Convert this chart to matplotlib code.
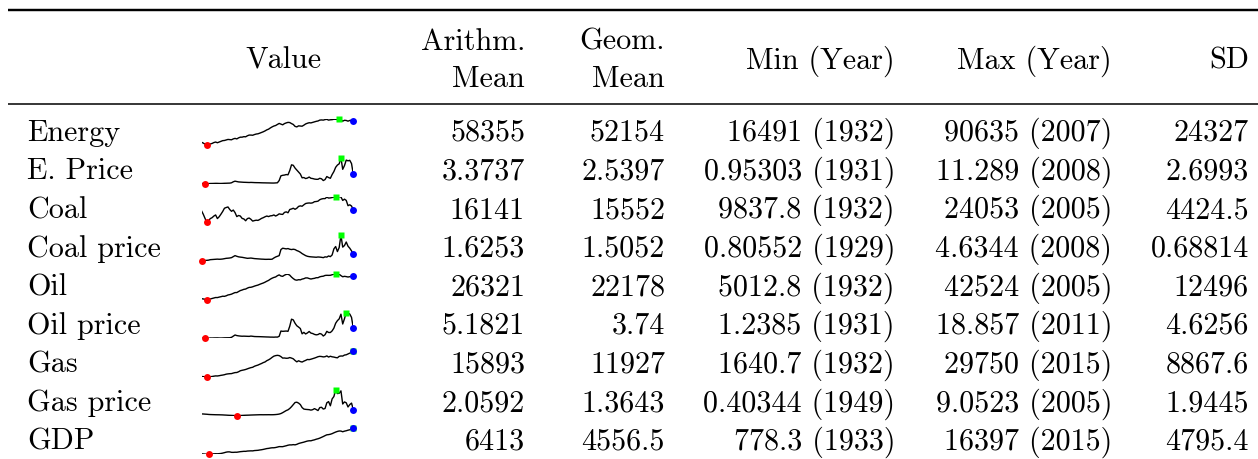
import numpy as np
import matplotlib
matplotlib.use("Agg")
import matplotlib.pyplot as plt

plt.rcParams["font.family"] = ["cmr10", "DejaVu Serif"]
plt.rcParams["axes.formatter.use_mathtext"] = True

# --- data: yearly series 1929-2015 ---
years = np.arange(1929, 2016)

energy = [24400, 22000, 19000, 16491, 17500, 19500, 21000, 23500, 25000, 23000, 25000,
          27000, 29000, 29500, 31000, 32500, 32000, 31500, 34000, 35500, 34000,
          37000, 39000, 39000, 40500, 40000, 43000, 45000, 45000, 44500, 46500,
          48000, 48700, 50500, 52500, 54500, 57000, 60000, 62000, 65500, 68500,
          71000, 72500, 75500, 78500, 76500, 74500, 78000, 80000, 81500, 81000,
          78000, 75500, 70000, 68500, 71500, 71000, 70500, 73500, 77000, 79000,
          80500, 80000, 81500, 83000, 84500, 85500, 88000, 88500, 88000, 89500,
          90300, 88000, 89000, 89300, 90500, 90400, 89800, 90635, 89000, 85000,
          87500, 87000, 85000, 87000, 87500, 86000]

e_price = [1.05, 1.00, 0.95303, 0.98, 0.97, 1.02, 1.03, 1.05, 1.08, 1.07, 1.04,
           1.03, 1.06, 1.10, 1.12, 1.15, 1.17, 1.30, 1.70, 1.95, 1.80,
           1.65, 1.60, 1.55, 1.50, 1.48, 1.45, 1.42, 1.45, 1.42, 1.38,
           1.36, 1.35, 1.33, 1.30, 1.28, 1.27, 1.25, 1.24, 1.22, 1.20,
           1.20, 1.25, 1.30, 2.20, 4.10, 4.30, 4.40, 4.60, 4.50, 6.20,
           8.50, 8.30, 7.20, 6.40, 5.60, 4.80, 3.30, 3.40, 3.00, 3.20,
           3.60, 3.10, 3.00, 2.80, 2.70, 2.70, 3.10, 2.90, 2.20, 2.60,
           3.80, 3.40, 3.10, 4.60, 5.80, 7.50, 8.40, 8.90, 11.289, 6.70,
           8.20, 10.40, 10.10, 10.30, 9.00, 4.70]

coal = [16200, 14300, 12000, 9837.8, 10800, 11900, 12400, 13300, 13900, 11900, 12900,
        14300, 15800, 17600, 18000, 18300, 16900, 15900, 16600, 15200, 13000,
        13600, 13300, 12000, 11700, 10700, 11900, 12200, 11500, 10500, 10800,
        11000, 10900, 11400, 12000, 12400, 12900, 13300, 13000, 13400, 13500,
        13900, 13300, 13800, 14500, 14300, 14200, 15300, 15600, 15100, 16900,
        17200, 17600, 17000, 17600, 18600, 18900, 18700, 19500, 20200, 20400,
        20500, 20400, 20600, 21200, 21300, 21500, 22300, 22700, 22900, 22900,
        23700, 23200, 23300, 23500, 23700, 24053, 23800, 23900, 23800, 21900,
        22600, 21900, 19000, 19500, 18800, 16700]

coal_price = [0.80552, 0.85, 0.88, 0.90, 0.93, 1.00, 1.02, 1.04, 1.06, 1.08, 1.06,
              1.07, 1.10, 1.15, 1.20, 1.22, 1.25, 1.30, 1.45, 1.60, 1.50,
              1.42, 1.38, 1.35, 1.30, 1.25, 1.20, 1.22, 1.24, 1.20, 1.16,
              1.14, 1.12, 1.10, 1.08, 1.07, 1.05, 1.05, 1.06, 1.05, 1.07,
              1.25, 1.40, 1.50, 1.60, 2.50, 2.70, 2.65, 2.60, 2.65, 2.55,
              2.50, 2.55, 2.50, 2.35, 2.25, 2.10, 1.90, 1.75, 1.60, 1.50,
              1.45, 1.42, 1.40, 1.38, 1.36, 1.40, 1.38, 1.35, 1.30, 1.42,
              1.38, 1.55, 1.45, 1.70, 2.60, 2.95, 2.20, 2.80, 4.6344, 2.86,
              3.10, 3.62, 3.00, 2.70, 2.30, 1.83]

oil = [6450, 6000, 5500, 5012.8, 5500, 6000, 6700, 7400, 8100, 8000, 8700,
       9300, 10000, 9800, 10600, 11800, 12300, 13000, 14200, 15300, 15300,
       16800, 18200, 19000, 20000, 20400, 21800, 22800, 23000, 23700, 24700,
       25500, 26200, 27300, 28300, 29200, 30400, 31800, 33000, 34800, 36200,
       37300, 38000, 39800, 41000, 39400, 38900, 40600, 41700, 42000, 40600,
       37800, 35600, 33800, 33300, 34000, 33800, 34900, 35500, 36600, 36600,
       35700, 35000, 35600, 36000, 36900, 36900, 38200, 38800, 39100, 40200,
       40400, 40300, 40400, 41200, 42300, 42524, 42200, 42000, 39900, 38300,
       38900, 38500, 37900, 38400, 38600, 39000]

oil_price = [1.35, 1.30, 1.2385, 1.32, 1.28, 1.45, 1.42, 1.48, 1.50, 1.52, 1.45,
             1.42, 1.48, 1.55, 1.58, 1.60, 1.62, 1.90, 2.70, 3.50, 3.10,
             2.90, 2.75, 2.65, 2.70, 2.65, 2.60, 2.55, 2.75, 2.60, 2.45,
             2.40, 2.38, 2.35, 2.30, 2.25, 2.20, 2.15, 2.12, 2.05, 2.05,
             2.00, 2.10, 2.05, 2.60, 6.20, 6.00, 6.10, 6.20, 6.00, 9.50,
             14.30, 13.80, 11.50, 9.80, 8.90, 7.90, 4.30, 5.30, 4.20, 4.90,
             5.90, 4.80, 4.50, 3.90, 3.60, 3.80, 4.50, 4.10, 2.80, 3.70,
             6.00, 5.20, 5.20, 6.30, 8.20, 11.50, 13.30, 14.50, 17.70, 11.00,
             14.60, 18.857, 18.50, 17.80, 15.50, 8.20]

gas = [2100, 2000, 1800, 1640.7, 1700, 1950, 2150, 2500, 2800, 2700, 3000,
       3400, 3700, 4100, 4700, 5000, 5200, 5300, 5900, 6400, 6500,
       7300, 8400, 8900, 9300, 9800, 10500, 11200, 11800, 12200, 13300,
       14000, 14600, 15500, 16300, 17300, 18000, 19400, 20300, 21500, 23000,
       24300, 24900, 25200, 24900, 23800, 22200, 22300, 22000, 22100, 22800,
       22200, 21400, 19600, 18100, 19300, 18400, 17900, 18900, 19700, 20700,
       20500, 21000, 21600, 22200, 22900, 23700, 24100, 23900, 23500, 23700,
       24600, 23300, 24200, 23600, 23300, 22800, 22500, 24100, 24500, 24400,
       25500, 25800, 26700, 27600, 28100, 29750]

gas_price = [0.97, 0.95, 0.90, 0.86, 0.80, 0.76, 0.74, 0.72, 0.70, 0.69, 0.68,
             0.66, 0.64, 0.60, 0.57, 0.53, 0.50, 0.48, 0.45, 0.43, 0.40344,
             0.42, 0.44, 0.47, 0.50, 0.53, 0.55, 0.57, 0.60, 0.62, 0.64,
             0.66, 0.68, 0.70, 0.70, 0.69, 0.70, 0.70, 0.71, 0.70, 0.70,
             0.72, 0.76, 0.82, 0.92, 1.10, 1.40, 1.75, 2.10, 2.35, 2.80,
             3.40, 4.10, 4.80, 4.90, 4.60, 4.10, 3.10, 2.60, 2.50, 2.45,
             2.40, 2.25, 2.40, 2.75, 2.45, 2.10, 3.10, 3.20, 2.60, 2.80,
             4.70, 5.10, 3.70, 6.00, 6.80, 9.0523, 7.80, 7.90, 8.70, 4.30,
             5.00, 4.70, 3.30, 4.10, 4.60, 2.40]

gdp = [1056.6, 966.7, 904.8, 788.2, 778.3, 862.2, 939.0, 1060.5, 1114.6, 1077.7, 1163.6,
       1266.1, 1490.3, 1771.8, 2073.7, 2239.4, 2217.8, 1960.9, 1939.4, 2020.0, 2008.9,
       2184.0, 2360.0, 2456.1, 2571.4, 2556.9, 2739.0, 2797.4, 2856.3, 2835.3, 3031.0,
       3108.7, 3188.1, 3383.1, 3530.4, 3734.0, 3976.7, 4238.9, 4355.2, 4569.0, 4712.5,
       4722.0, 4877.6, 5134.3, 5424.1, 5396.0, 5385.4, 5675.4, 5937.0, 6267.2, 6466.2,
       6450.4, 6617.7, 6491.3, 6792.0, 7285.0, 7593.8, 7860.5, 8132.6, 8474.5, 8786.4,
       8955.0, 8948.4, 9266.6, 9521.0, 9905.4, 10174.8, 10561.0, 11034.9, 11525.9, 12065.9,
       12559.7, 12682.2, 12908.8, 13271.1, 13773.5, 14234.2, 14613.8, 14873.7, 14830.4, 14418.7,
       14783.8, 15020.6, 15354.6, 15612.2, 15982.3, 16397.2]

row_names = ["Energy", "E. Price", "Coal", "Coal price", "Oil", "Oil price",
             "Gas", "Gas price", "GDP"]
series = [energy, e_price, coal, coal_price, oil, oil_price, gas, gas_price, gdp]

arith_mean = ["58355", "3.3737", "16141", "1.6253", "26321", "5.1821", "15893", "2.0592", "6413"]
geom_mean = ["52154", "2.5397", "15552", "1.5052", "22178", "3.74", "11927", "1.3643", "4556.5"]
min_year = ["16491 (1932)", "0.95303 (1931)", "9837.8 (1932)", "0.80552 (1929)", "5012.8 (1932)",
            "1.2385 (1931)", "1640.7 (1932)", "0.40344 (1949)", "778.3 (1933)"]
max_year = ["90635 (2007)", "11.289 (2008)", "24053 (2005)", "4.6344 (2008)", "42524 (2005)",
            "18.857 (2011)", "29750 (2015)", "9.0523 (2005)", "16397 (2015)"]
sd = ["24327", "2.6993", "4424.5", "0.68814", "12496", "4.6256", "8867.6", "1.9445", "4795.4"]

# --- layout (pixels) ---
W, H = 1258, 460
FS = 21.7
row_base0, row_step = 140.7, 38.66
col_right = [525, 665, 895, 1112, 1249]
spark_x0, spark_x1 = 201.5, 353.3

fig = plt.figure(figsize=(W / 100, H / 100), dpi=100)
ax = fig.add_axes([0, 0, 1, 1])
ax.set_xlim(0, W)
ax.set_ylim(H, 0)
ax.axis("off")

# rules
ax.plot([8, W], [11.3, 11.3], color="black", lw=1.75, solid_capstyle="butt")
ax.plot([8, W], [104.7, 104.7], color="black", lw=1.1, solid_capstyle="butt")

# header
ax.text(283, 68.3, "Value", ha="center", va="baseline", fontsize=FS)
ax.text(col_right[0], 50, "Arithm.", ha="right", va="baseline", fontsize=FS)
ax.text(col_right[0], 87.3, "Mean", ha="right", va="baseline", fontsize=FS)
ax.text(col_right[1], 50, "Geom.", ha="right", va="baseline", fontsize=FS)
ax.text(col_right[1], 87.3, "Mean", ha="right", va="baseline", fontsize=FS)
ax.text(col_right[2], 68.3, "Min (Year)", ha="right", va="baseline", fontsize=FS)
ax.text(col_right[3], 68.3, "Max (Year)", ha="right", va="baseline", fontsize=FS)
ax.text(col_right[4], 68.3, "SD", ha="right", va="baseline", fontsize=FS)

for i, name in enumerate(row_names):
    yb = row_base0 + i * row_step
    ax.text(27, yb, name, ha="left", va="baseline", fontsize=FS)
    cells = [arith_mean[i], geom_mean[i], min_year[i], max_year[i], sd[i]]
    for xr, s in zip(col_right, cells):
        ax.text(xr, yb, s, ha="right", va="baseline", fontsize=FS)

    # sparkline
    top = yb - 20.5
    bot = yb + 5.3
    sax = fig.add_axes([spark_x0 / W, 1 - bot / H, (spark_x1 - spark_x0) / W, (bot - top) / H])
    vals = np.array(series[i])
    sax.plot(years, vals, color="black", lw=1.0)
    imin, imax = np.argmin(vals), np.argmax(vals)
    sax.plot(years[imin], vals[imin], "o", color="#ff0000", ms=5, mec="none", clip_on=False)
    sax.plot(years[imax], vals[imax], "s", color="#00ff00", ms=4.2, mec="none", clip_on=False)
    sax.plot(years[-1], vals[-1], "o", color="#0000ff", ms=5, mec="none", clip_on=False)
    sax.set_xlim(years[0], years[-1])
    sax.set_ylim(vals.min(), vals.max())
    sax.axis("off")

fig.savefig("out.png", dpi=100)
